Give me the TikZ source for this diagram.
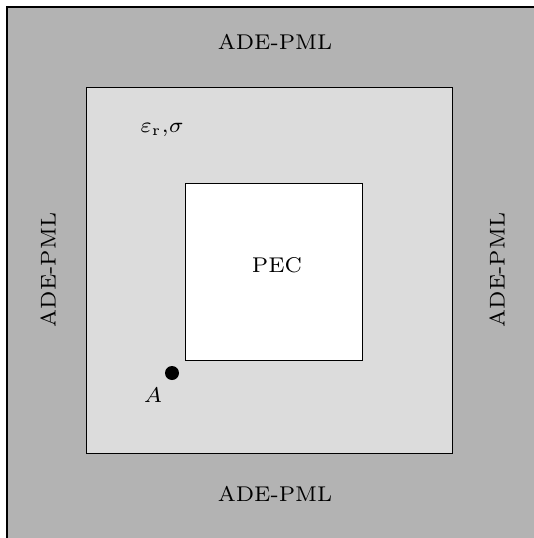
\documentclass[tikz,border=0pt]{standalone}
\usepackage{tikz}
\usetikzlibrary{positioning}
\definecolor{pmlgray}{HTML}{B3B3B3}
\definecolor{dielgray}{HTML}{DCDCDC}

\begin{document}
\begin{tikzpicture}[x=1pt,y=-1pt,every node/.style={font=\fontsize{7}{8}\selectfont,inner sep=0pt,scale=3.05,transform shape},region/.style={draw=black,line width=1pt}]
  \useasboundingbox (0,0) rectangle (534,538);
  \clip (0,0) rectangle (534,538);

  % PML layer
  \draw[region,fill=pmlgray,line width=1.3pt] (7,7) rectangle (560,560);
  \node (pmltop) at (275,42) {ADE-PML};
  \node (pmlbot) at (275,494) {ADE-PML};
  \node[rotate=90] (pmlleft) at (48,270) {ADE-PML};
  \node[rotate=90] (pmlright) at (497,270) {ADE-PML};

  % Dielectric region
  \draw[region,fill=dielgray] (86,87) rectangle (452,453);
  \node (diel) at (162,130) {$\varepsilon_{\mathrm{r}}{,}\sigma$};

  % PEC
  \draw[region,fill=white] (185,183) rectangle (362,360);
  \node (pec) at (277,265) {PEC};

  % Observation point
  \fill (172,373) circle (7) coordinate (ptA);
  \node (lblA) at (153,395) {$A$};
\end{tikzpicture}
\end{document}
